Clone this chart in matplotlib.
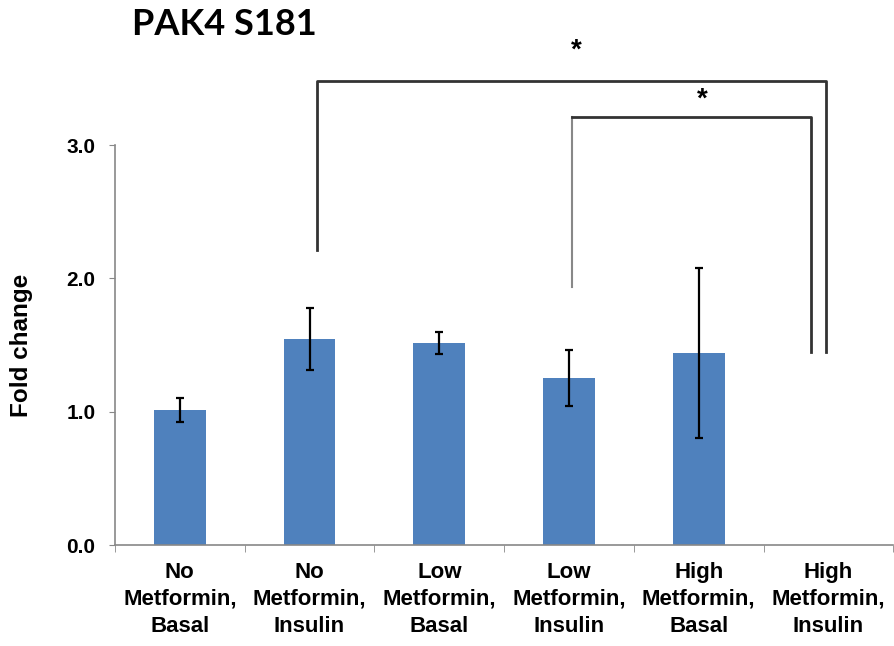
import matplotlib.pyplot as plt
import numpy as np

categories = ["No\nMetformin,\nBasal", "No\nMetformin,\nInsulin", "Low\nMetformin,\nBasal",
              "Low\nMetformin,\nInsulin", "High\nMetformin,\nBasal", "High\nMetformin,\nInsulin"]
fold_change = [1.01, 1.545, 1.515, 1.25, 1.44, 0.0]
errors = [0.09, 0.235, 0.083, 0.21, 0.64, 0.0]

plt.rcParams['font.family'] = ['Liberation Sans', 'DejaVu Sans']

fig = plt.figure(figsize=(8.95, 6.46), dpi=100)
ax = fig.add_axes([0.1285, 0.1563, 0.8695, 0.6192])

x = np.arange(len(categories))
ax.bar(x[:5], fold_change[:5], width=0.4, color='#4F81BD', zorder=2)
ax.errorbar(x[:5], fold_change[:5], yerr=errors[:5], fmt='none', ecolor='black',
            elinewidth=1.6, capsize=3, capthick=1.6, zorder=3)

ax.set_xlim(-0.5, 5.5)
ax.set_ylim(0, 3.0)
ax.set_yticks([0, 1, 2, 3])
ax.set_yticklabels(['0.0', '1.0', '2.0', '3.0'], fontsize=15, fontweight='bold')
ax.set_xticks(x)
ax.set_xticklabels(categories, fontsize=16, fontweight='bold', linespacing=1.38)
ax.set_xticks(np.arange(-0.5, 6.0, 1.0), minor=True)
ax.tick_params(axis='x', which='major', length=0, pad=12)
ax.tick_params(axis='x', which='minor', length=5, color='#888888', direction='out')
ax.tick_params(axis='y', length=4, color='#888888', pad=10)
ax.set_ylabel('Fold change', fontsize=17.5, fontweight='bold', labelpad=24)

for side in ['top', 'right']:
    ax.spines[side].set_visible(False)
for side in ['left', 'bottom']:
    ax.spines[side].set_color('#888888')
    ax.spines[side].set_linewidth(1.2)

# significance brackets
ax.plot([1.06, 1.06, 4.98, 4.98], [2.21, 3.48, 3.48, 1.45], color='#333333', lw=2,
        clip_on=False)
ax.plot([3.02, 3.02], [1.935, 3.21], color='#888888', lw=1.5, clip_on=False)
ax.plot([3.02, 4.87, 4.87], [3.21, 3.21, 1.45], color='#333333', lw=2, clip_on=False)
ax.text(3.06, 3.71, '*', fontsize=20, fontweight='bold', ha='center', va='center')
ax.text(4.03, 3.34, '*', fontsize=20, fontweight='bold', ha='center', va='center')

fig.text(0.147, 0.962, 'PAK4 S181', fontsize=26, fontweight='bold', family=['Lato', 'DejaVu Sans'],
         ha='left', va='center')

fig.savefig('out.png', dpi=100)
